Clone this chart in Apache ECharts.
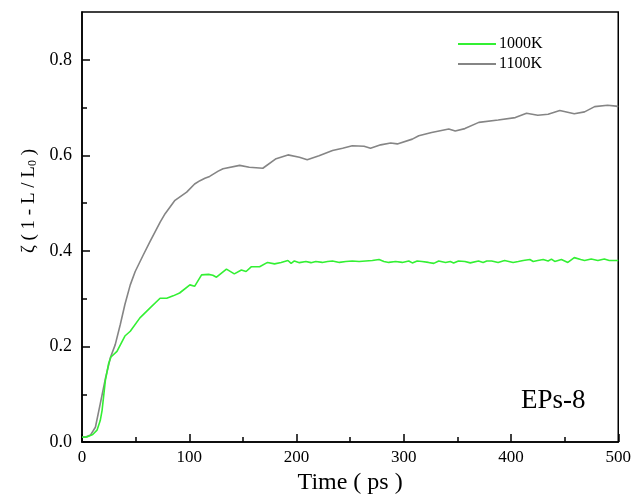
<!DOCTYPE html>
<html>
<head>
<meta charset="utf-8">
<script src="https://cdn.jsdelivr.net/npm/echarts@6/dist/echarts.min.js"></script>
<style>
html, body { margin: 0; padding: 0; background: #fff; }
#chart { width: 634px; height: 500px; }
</style>
</head>
<body>
<div id="chart"></div>
<script>
// 1000K curve (time in ps, zeta)
var time1000 = [0, 5, 10, 14, 17, 18.7, 21.8, 24.9, 27, 32.6, 40, 45, 54, 63.5, 72.8, 79, 85, 91, 100.6, 105, 111.5, 118, 122, 125.4,
  134.7, 142, 148.6, 153, 158, 165.6, 173, 179.5, 185.7, 192, 195, 198, 202.7, 208.8, 213.5, 218, 224, 229, 233.6, 240, 246,
  252, 258.4, 264.5, 270.7, 277, 281.5, 286, 292.4, 298.6, 304.7, 308, 312.5, 317, 323, 328, 332.6, 339, 343.4, 346.5, 351,
  357, 362, 369.7, 374, 377.4, 382, 388, 394, 402, 406.8, 411.4, 417.6, 420.7, 425, 430, 434.6, 437.7, 440.8, 447, 453, 459,
  465, 468.6, 474.8, 481, 487, 491.6, 498, 500]
var zeta1000 = [0.010, 0.011, 0.016, 0.025, 0.045, 0.066, 0.129, 0.165, 0.178, 0.19, 0.222, 0.232, 0.26, 0.281, 0.301, 0.301,
  0.306, 0.312, 0.329, 0.326, 0.35, 0.351, 0.349, 0.345, 0.362, 0.352, 0.36, 0.357, 0.367, 0.367, 0.376, 0.373, 0.376, 0.38,
  0.374, 0.379, 0.3755, 0.378, 0.3755, 0.378, 0.376, 0.378, 0.379, 0.376, 0.378, 0.379, 0.378, 0.379, 0.380, 0.382, 0.378,
  0.376, 0.378, 0.376, 0.379, 0.375, 0.379, 0.378, 0.376, 0.374, 0.379, 0.376, 0.378, 0.375, 0.379, 0.378, 0.375, 0.379,
  0.376, 0.379, 0.379, 0.376, 0.380, 0.376, 0.378, 0.380, 0.382, 0.378, 0.380, 0.382, 0.379, 0.383, 0.378, 0.382, 0.376,
  0.386, 0.382, 0.380, 0.383, 0.380, 0.383, 0.380, 0.380, 0.380, 0.382, 0.383, 0.384]

// 1100K curve
var time1100 = [0, 4, 8, 12.5, 17, 22, 26.5, 31, 35.7, 40, 45, 49.6, 57, 63.5, 73, 77.5, 86.7, 97.6, 105, 110, 114.6, 119,
  127, 131.5, 147, 156, 168.6, 181, 192, 202.7, 210, 221, 233.6, 243, 252, 263, 269, 278.5, 287.8, 294, 308, 314, 326, 342,
  348, 357, 370, 388, 404, 414.5, 425, 434.6, 445.5, 459, 468.6, 478, 490, 498, 500]
var zeta1100 = [0.010, 0.011, 0.015, 0.031, 0.08, 0.135, 0.177, 0.204, 0.246, 0.288, 0.329, 0.357, 0.391, 0.42, 0.461, 0.478,
  0.506, 0.523, 0.54, 0.547, 0.552, 0.556, 0.567, 0.572, 0.579, 0.575, 0.573, 0.593, 0.601, 0.596, 0.591, 0.599, 0.61, 0.615,
  0.62, 0.619, 0.615, 0.622, 0.626, 0.624, 0.634, 0.641, 0.648, 0.655, 0.651, 0.656, 0.669, 0.674, 0.679, 0.688, 0.684,
  0.686, 0.694, 0.687, 0.691, 0.702, 0.705, 0.703, 0.702]

var yMajor = [0, 0.2, 0.4, 0.6, 0.8]
var yMinor = [0.1, 0.3, 0.5, 0.7]

function pairs (xs, ys) {
  return xs.map(function (x, i) { return [x, ys[i]] })
}

var serif = 'Liberation Serif'
var chart = echarts.init(document.getElementById('chart'))
chart.setOption({
  backgroundColor: '#fff',
  animation: false,
  title: {
    text: 'EPs-8',
    left: 521,
    top: 387,
    padding: 0,
    textStyle: { fontFamily: serif, fontSize: 27, fontWeight: 'normal', color: '#000' }
  },
  legend: {
    orient: 'vertical',
    left: 458,
    top: 36,
    padding: 0,
    icon: 'rect',
    itemWidth: 38,
    itemHeight: 2,
    itemGap: 4,
    data: ['1000K', '1100K'],
    textStyle: { fontFamily: serif, fontSize: 16, color: '#000', padding: [0, 0, 0, -2] }
  },
  grid: {
    left: 82,
    right: 13,
    top: 12,
    bottom: 55,
    show: true,
    borderColor: '#000',
    borderWidth: 1.5
  },
  xAxis: {
    type: 'value',
    min: 0,
    max: 500,
    interval: 100,
    name: 'Time ( ps )',
    nameLocation: 'middle',
    nameGap: 27,
    nameTextStyle: { fontFamily: serif, fontSize: 24, color: '#000' },
    axisLine: { lineStyle: { color: '#000', width: 1.5 } },
    axisTick: { inside: true, length: 8, lineStyle: { color: '#000', width: 1.5 } },
    minorTick: { show: true, splitNumber: 2, length: 5, lineStyle: { color: '#000', width: 1.5 } },
    axisLabel: { fontFamily: serif, fontSize: 17, color: '#000', margin: 7 },
    splitLine: { show: false }
  },
  yAxis: [{
    type: 'value',
    min: 0,
    max: 0.9,
    interval: 0.2,
    name: '{a|ζ ( 1 - L / L}{s|0}{a| )}',
    nameLocation: 'middle',
    nameGap: 40,
    nameTextStyle: {
      padding: [0, 0, 0, 52],
      rich: {
        a: { fontFamily: serif, fontSize: 19, color: '#000', lineHeight: 20 },
        s: { fontFamily: serif, fontSize: 12, color: '#000', verticalAlign: 'bottom', lineHeight: 20, padding: [5, 0, 0, 0] }
      }
    },
    axisLine: { lineStyle: { color: '#000', width: 1.5 } },
    axisTick: { inside: true, length: 8, customValues: yMajor, lineStyle: { color: '#000', width: 1.5 } },
    axisLabel: {
      fontFamily: serif, fontSize: 18, color: '#000', margin: 10,
      customValues: yMajor,
      formatter: function (v) { return v.toFixed(1) }
    },
    splitLine: { show: false }
  }, {
    type: 'value',
    min: 0,
    max: 0.9,
    position: 'left',
    axisLine: { show: false },
    axisTick: { inside: true, length: 5, customValues: yMinor, lineStyle: { color: '#000', width: 1.5 } },
    axisLabel: { show: false },
    splitLine: { show: false }
  }],
  series: [
    {
      name: '1100K',
      type: 'line',
      symbol: 'none',
      lineStyle: { color: '#858585', width: 1.6 },
      itemStyle: { color: '#858585' },
      data: pairs(time1100, zeta1100)
    },
    {
      name: '1000K',
      type: 'line',
      symbol: 'none',
      lineStyle: { color: '#33f033', width: 1.6 },
      itemStyle: { color: '#33f033' },
      data: pairs(time1000, zeta1000)
    }
  ]
})
</script>
</body>
</html>
